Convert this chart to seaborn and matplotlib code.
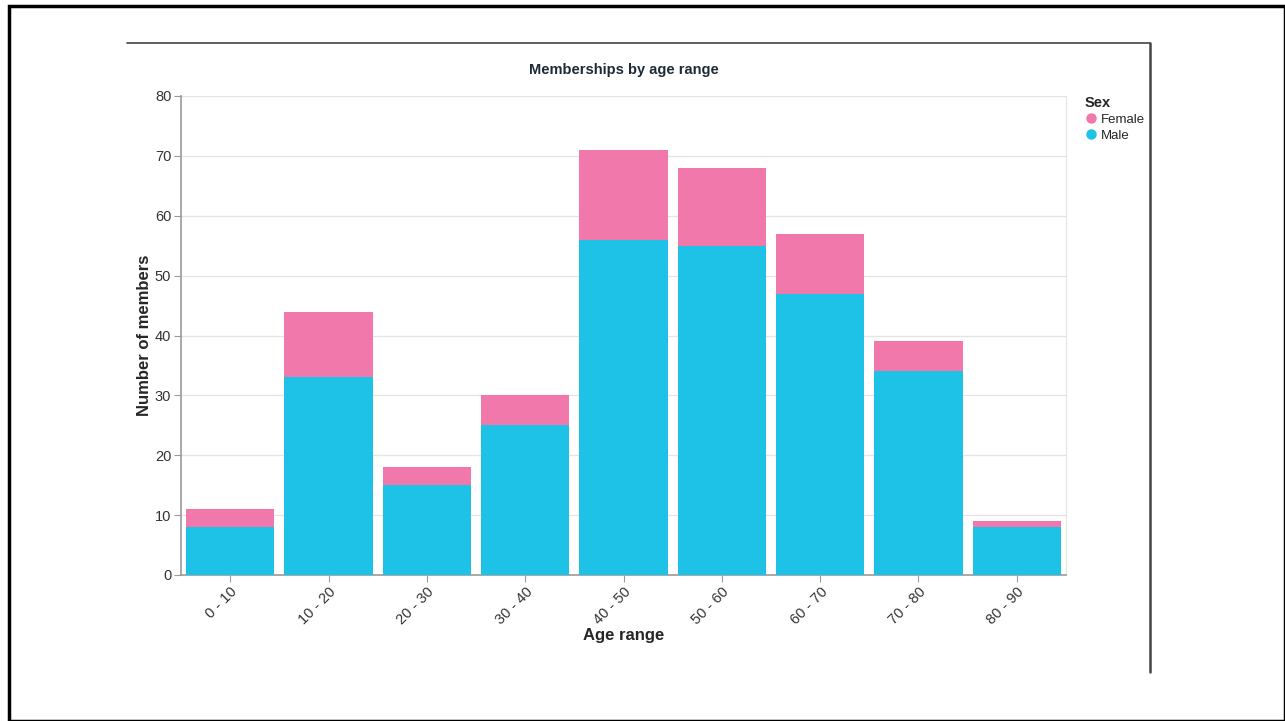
import pandas as pd
import matplotlib.pyplot as plt
import seaborn as sns
from matplotlib.lines import Line2D
from matplotlib.patches import Rectangle

# Data
age_ranges = ["0 - 10", "10 - 20", "20 - 30", "30 - 40", "40 - 50",
              "50 - 60", "60 - 70", "70 - 80", "80 - 90"]
male = [8, 33, 15, 25, 56, 55, 47, 34, 8]
female = [3, 11, 3, 5, 15, 13, 10, 5, 1]

male_color = "#1ec2e6"
female_color = "#f078aa"

df = pd.DataFrame({"age": age_ranges, "male": male, "female": female})
df["total"] = df["male"] + df["female"]

sns.set_style("white")
plt.rcParams["font.family"] = ["Liberation Sans", "DejaVu Sans"]

W, H = 1285, 721
fig = plt.figure(figsize=(W / 100, H / 100), dpi=100)
ax = fig.add_axes([181 / W, 1 - 575 / H, (1066 - 181) / W, (575 - 96) / H])

# stacked bars: total (female on top) then male drawn over it
sns.barplot(x="age", y="total", data=df, color=female_color, width=0.9,
            saturation=1, linewidth=0, ax=ax, zorder=2)
sns.barplot(x="age", y="male", data=df, color=male_color, width=0.9,
            saturation=1, linewidth=0, ax=ax, zorder=3)

ax.set_ylim(0, 80)
ax.set_xlim(-0.5, len(age_ranges) - 0.5)
ax.set_yticks(range(0, 81, 10))
ax.yaxis.grid(True, color="#e4e4e4", linewidth=0.9, zorder=0)
ax.set_axisbelow(True)

for side in ["left", "bottom"]:
    ax.spines[side].set_color("#9a9a9a")
    ax.spines[side].set_linewidth(1.2)
ax.spines["right"].set_color("#e4e4e4")
ax.spines["top"].set_visible(False)

ax.tick_params(axis="both", which="both", direction="out", length=5,
               width=0.8, color="#9a9a9a", labelsize=10.5, labelcolor="#333333",
               pad=2)
ax.tick_params(axis="both", left=True, bottom=True)
plt.setp(ax.get_xticklabels(), rotation=45, ha="right", rotation_mode="anchor")

ax.set_xlabel("Age range", fontsize=12, fontweight="bold", labelpad=1)
ax.set_ylabel("Number of members", fontsize=12, fontweight="bold", labelpad=2)
ax.set_title("Memberships by age range", fontsize=10.5, fontweight="bold",
             color="#1c2b36", pad=16)

# legend
handles = [Line2D([0], [0], marker="o", linestyle="", markersize=6.5,
                  markerfacecolor=female_color, markeredgecolor=female_color),
           Line2D([0], [0], marker="o", linestyle="", markersize=6.5,
                  markerfacecolor=male_color, markeredgecolor=male_color)]
leg = fig.legend(handles, ["Female", "Male"], title="Sex",
                 loc="upper left", bbox_to_anchor=(1078 / W, 1 - 89 / H),
                 frameon=False, fontsize=9.5, title_fontsize=10.5,
                 handletextpad=0.2, labelspacing=0.3, borderpad=0,
                 handlelength=1.0, alignment="left")
leg.get_title().set_fontweight("bold")

# page frame lines
fig.add_artist(Line2D([127 / W, 1150 / W], [1 - 43 / H, 1 - 43 / H],
                      color="#444444", linewidth=1.2))
fig.add_artist(Line2D([1150 / W, 1150 / W], [1 - 43 / H, 1 - 672 / H],
                      color="#444444", linewidth=1.8))
fig.add_artist(Rectangle((9 / W, 0), 1 - 9 / W, 1 - 6 / H,
                         fill=False, edgecolor="black", linewidth=2.5))

plt.savefig("out.png", dpi=100)
